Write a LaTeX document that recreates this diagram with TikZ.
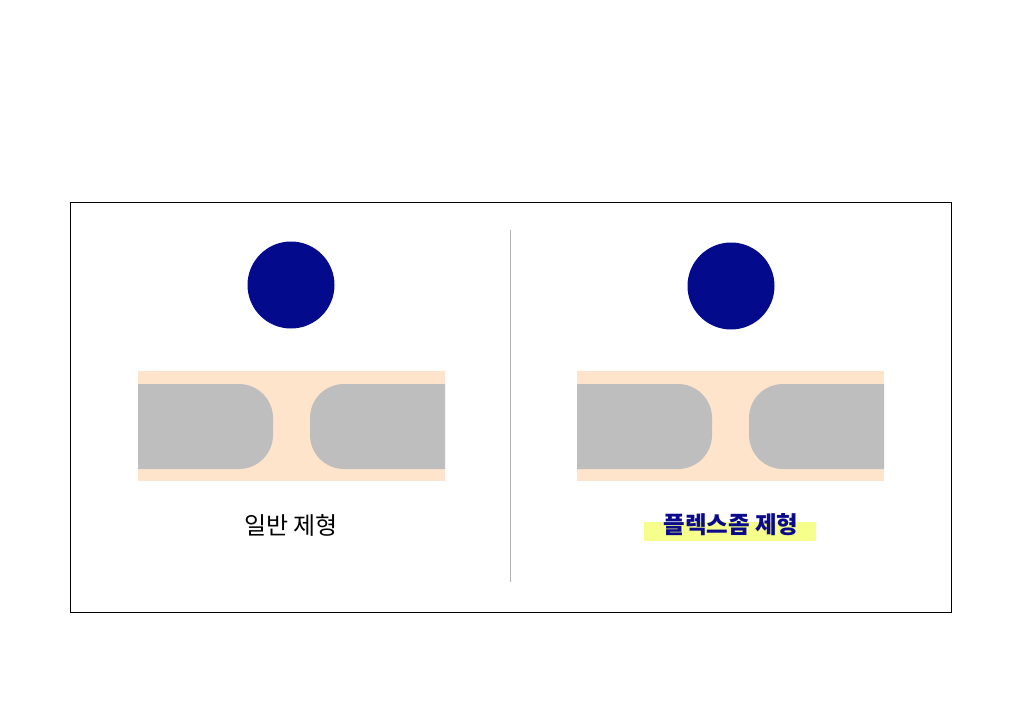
\documentclass[tikz,border=0pt]{standalone}
\usepackage{fontspec}
\newfontfamily\kr{Noto Sans CJK KR}
\definecolor{navy}{HTML}{040A8C}
\definecolor{beige}{HTML}{FFE4CC}
\definecolor{gr}{HTML}{BEBEBE}
\definecolor{hl}{HTML}{F6FF8C}
\definecolor{txtblue}{HTML}{0A0A8A}
\begin{document}
\begin{tikzpicture}[x=1pt,y=-1pt,
  dot/.style={circle,fill=navy,draw=none,minimum size=87pt,inner sep=0pt},
  label/.style={font=\kr\fontsize{24}{28}\selectfont,inner sep=0pt}]
\useasboundingbox (0,0) rectangle (1020,718);
\fill[white] (0,0) rectangle (1020,718);
\draw[line width=0.8pt] (70.5,202.5) rectangle (951.5,612.5);
\coordinate (d1) at (510.5,230);
\coordinate (d2) at (510.5,582);
\draw[gray!60,line width=0.8pt] (d1) -- (d2);
% left
\node[dot] (c1) at (291,285) {};
\fill[beige] (138,371) rectangle (445,481);
\fill[gr] (138,384) -- (239,384) arc[start angle=270,end angle=360,radius=34] -- (273,435) arc[start angle=0,end angle=90,radius=34] -- (138,469) -- cycle;
\fill[gr] (445,384) -- (344,384) arc[start angle=270,end angle=180,radius=34] -- (310,435) arc[start angle=180,end angle=90,radius=34] -- (445,469) -- cycle;
\node[label] (t1) at (291,525) {일반 제형};
% right
\node[dot] (c2) at (731,286) {};
\fill[beige] (577,371) rectangle (884,481);
\fill[gr] (577,384) -- (678,384) arc[start angle=270,end angle=360,radius=34] -- (712,435) arc[start angle=0,end angle=90,radius=34] -- (577,469) -- cycle;
\fill[gr] (884,384) -- (783,384) arc[start angle=270,end angle=180,radius=34] -- (749,435) arc[start angle=180,end angle=90,radius=34] -- (884,469) -- cycle;
\fill[hl] (644,522) rectangle (816,541);
\node[label,font=\kr\bfseries\fontsize{23.5}{28}\selectfont,text=txtblue] (t2) at (731,525) {플렉스좀 제형};
\end{tikzpicture}
\end{document}
